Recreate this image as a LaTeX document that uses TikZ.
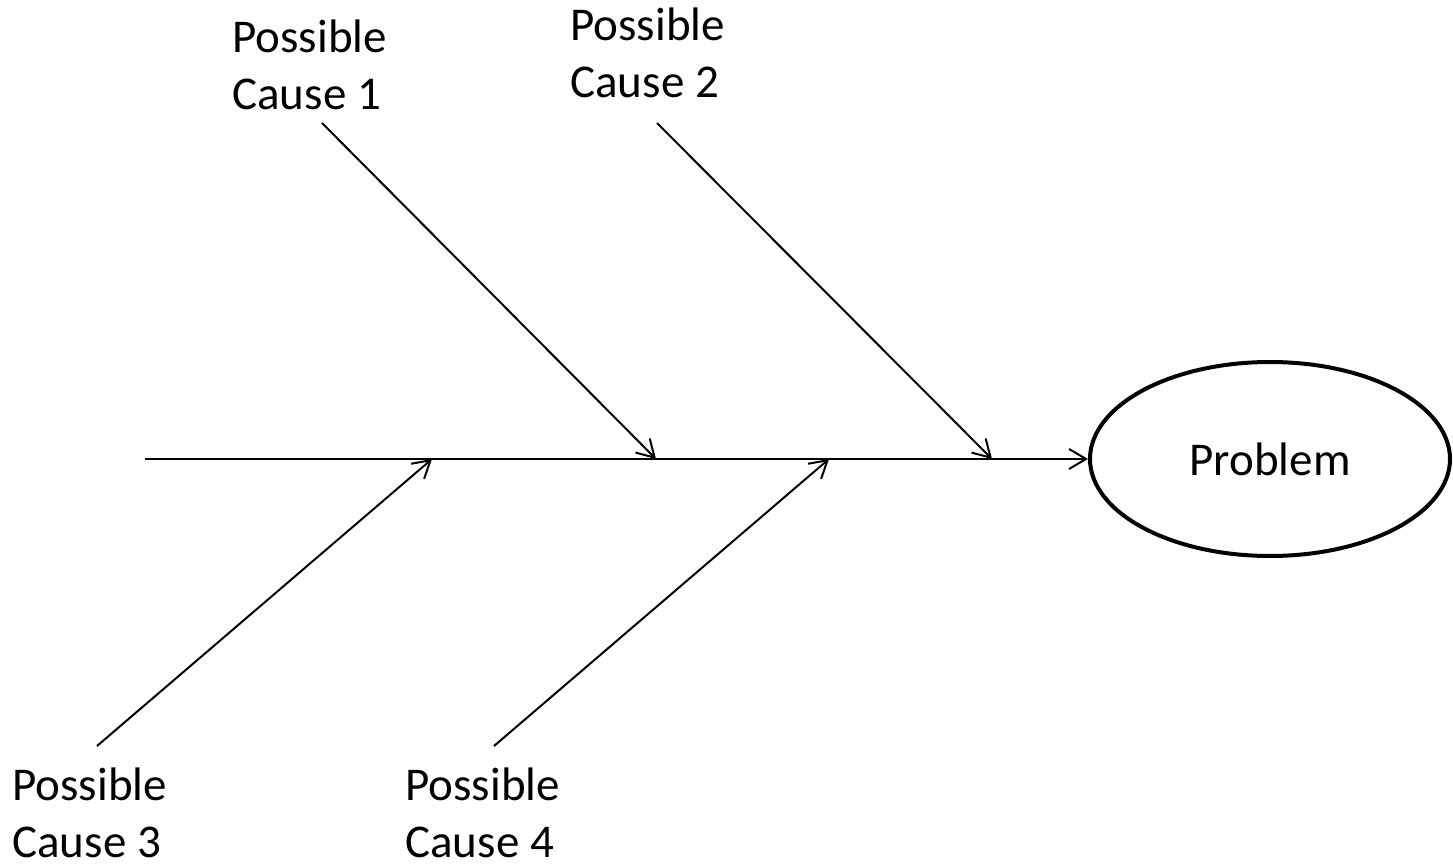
\documentclass[tikz,border=0pt]{standalone}
\usepackage{fontspec}
\setmainfont{Carlito}
\usetikzlibrary{positioning,shapes,arrows.meta,calc}

\begin{document}
\begin{tikzpicture}[
  x=0.5pt,
  y=-0.5pt,
  every node/.style={
    font=\fontsize{23.5}{28.5}\selectfont
  },
  causelabel/.style={
    anchor=base west,
    align=left,
    inner sep=0pt
  },
  problemnode/.style={
    ellipse,
    draw=black,
    line width=2pt,
    minimum width=180pt,
    minimum height=97pt,
    inner sep=0pt
  },
  bone/.style={
    line width=1pt,
    -{Straight Barb[length=8.5pt,width=10pt]}
  }
]
  \useasboundingbox (0,0) rectangle (1453,866);

  \node (Problem) [problemnode] at (1270,459) {Problem};
  \node (Cause1) [causelabel] at (232,110) {Possible\\Cause 1};
  \node (Cause2) [causelabel] at (570,98) {Possible\\Cause 2};
  \node (Cause3) [causelabel] at (12,857) {Possible\\Cause 3};
  \node (Cause4) [causelabel] at (405,857) {Possible\\Cause 4};

  \coordinate (Tail) at (145,459);
  \coordinate (Start1) at (322,123);
  \coordinate (Start2) at (657,123);
  \coordinate (Start3) at (97,746);
  \coordinate (Start4) at (494,746);
  \coordinate (Join1) at (656,459);
  \coordinate (Join2) at (992,459);
  \coordinate (Join3) at (432,459);
  \coordinate (Join4) at (829,459);

  \draw[bone] (Tail) -- (Problem.west);
  \draw[bone] (Start1) -- (Join1);
  \draw[bone] (Start2) -- (Join2);
  \draw[bone] (Start3) -- (Join3);
  \draw[bone] (Start4) -- (Join4);
\end{tikzpicture}
\end{document}
